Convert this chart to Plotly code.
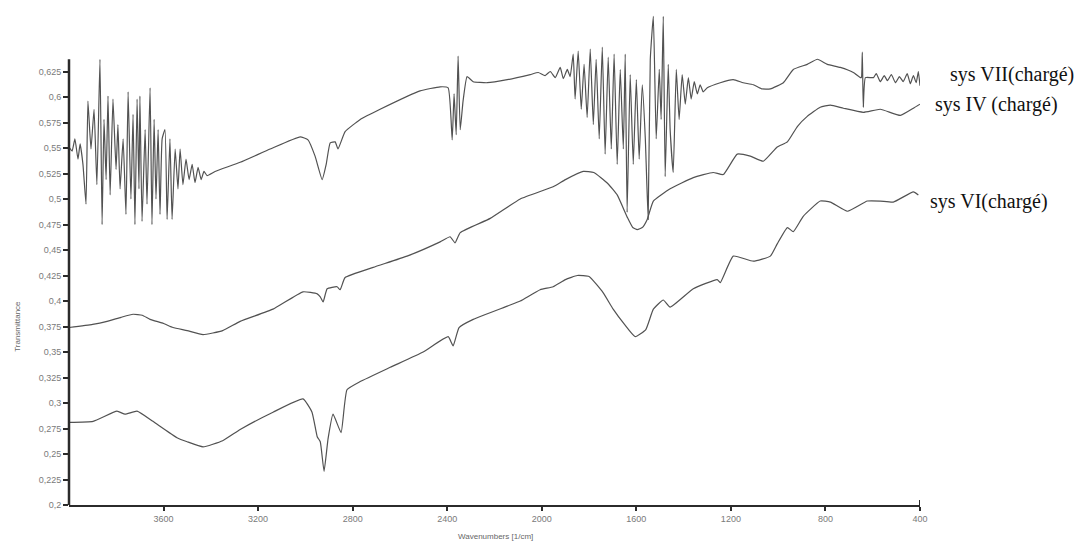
import plotly.graph_objects as go

# ---------------- data (wavenumber in 1/cm, transmittance) ----------------
x_tick_vals = [3600, 3200, 2800, 2400, 2000, 1600, 1200, 800, 400]
x_tick_text = ["3600", "3200", "2800", "2400", "2000", "1600", "1200", "800", "400"]
y_tick_vals = [0.2, 0.225, 0.25, 0.275, 0.3, 0.325, 0.35, 0.375, 0.4, 0.425, 0.45,
               0.475, 0.5, 0.525, 0.55, 0.575, 0.6, 0.625]
y_tick_text = ["0,2", "0,225", "0,25", "0,275", "0,3", "0,325", "0,35", "0,375", "0,4",
               "0,425", "0,45", "0,475", "0,5", "0,525", "0,55", "0,575", "0,6", "0,625"]

series_names = ["sys VII(chargé)", "sys IV (chargé)", "sys VI(chargé)"]

wn_vii = [4000, 3987, 3975, 3962, 3953, 3941, 3928, 3920, 3907, 3894, 3882, 3869, 3860, 3852,
          3843, 3835, 3826, 3814, 3801, 3793, 3784, 3771, 3759, 3750, 3738, 3729, 3721, 3712,
          3704, 3700, 3691, 3678, 3670, 3657, 3649, 3640, 3632, 3623, 3615, 3606, 3594, 3585,
          3573, 3564, 3551, 3539, 3530, 3518, 3505, 3492, 3479, 3467, 3454, 3441, 3429, 3416,
          3382, 3276, 3149, 3022, 2989, 2959, 2929, 2912, 2895, 2874, 2862, 2832, 2768, 2684,
          2515, 2430, 2396, 2379, 2371, 2362, 2354, 2345, 2333, 2316, 2290, 2231, 2146, 2049,
          2015, 1986, 1964, 1943, 1922, 1909, 1892,
          1880, 1867, 1859, 1846, 1833, 1821, 1808, 1795, 1782, 1770, 1757, 1744, 1732, 1719,
          1706, 1694, 1681, 1668, 1655, 1647, 1639, 1626, 1613, 1600, 1588, 1575, 1562, 1550,
          1541, 1528, 1516, 1503, 1495, 1486, 1478, 1465, 1457, 1444, 1431, 1419, 1406, 1393,
          1380, 1368, 1355, 1342, 1330, 1317, 1300,
          1245, 1190, 1148, 1105, 1070, 1033, 978, 936, 877, 834, 792, 737, 682, 652, 648,
          644, 640, 631, 597, 585, 568, 551, 538, 521, 504, 487, 471, 454, 441, 428, 416,
          407, 400]
t_vii = [0.551, 0.547, 0.559, 0.539, 0.554, 0.534, 0.495, 0.596, 0.549, 0.588, 0.514, 0.637,
         0.475, 0.578, 0.519, 0.601, 0.504, 0.598, 0.529, 0.573, 0.510, 0.559, 0.485, 0.605,
         0.500, 0.583, 0.475, 0.598, 0.510, 0.601, 0.478, 0.568, 0.495, 0.609, 0.475, 0.578,
         0.500, 0.568, 0.485, 0.559, 0.568, 0.480, 0.559, 0.480, 0.549, 0.510, 0.549, 0.514,
         0.539, 0.519, 0.534, 0.516, 0.531, 0.519, 0.527, 0.523,
         0.527, 0.536, 0.549, 0.561, 0.558, 0.542, 0.519, 0.534, 0.555, 0.556, 0.549, 0.566,
         0.578, 0.588, 0.606, 0.610, 0.609, 0.558, 0.603, 0.563, 0.640, 0.568, 0.596, 0.620,
         0.615, 0.614, 0.617, 0.622, 0.624, 0.621, 0.625, 0.619, 0.629, 0.618, 0.627,
         0.620, 0.642, 0.598, 0.645, 0.588, 0.632, 0.580, 0.647, 0.573, 0.637, 0.559, 0.649,
         0.544, 0.639, 0.549, 0.642, 0.534, 0.627, 0.549, 0.642, 0.487, 0.622, 0.534, 0.617,
         0.539, 0.612, 0.559, 0.480, 0.637, 0.679, 0.559, 0.627, 0.578, 0.679, 0.522, 0.632,
         0.568, 0.526, 0.627, 0.578, 0.622, 0.593, 0.619, 0.598, 0.615, 0.603, 0.612, 0.605,
         0.609,
         0.614, 0.617, 0.614, 0.612, 0.608, 0.608, 0.614, 0.627, 0.632, 0.637, 0.632, 0.629,
         0.624, 0.619, 0.619, 0.644, 0.590, 0.619, 0.619, 0.623, 0.615, 0.621, 0.616, 0.622,
         0.614, 0.620, 0.615, 0.623, 0.613, 0.621, 0.614, 0.625, 0.611]

wn_iv = [4000, 3900, 3839, 3780, 3729, 3690, 3657, 3600, 3560, 3500, 3433, 3350, 3276, 3137,
         3010, 2950, 2937, 2925, 2908, 2866, 2853, 2832, 2713, 2570, 2430, 2388, 2367, 2345,
         2218, 2091, 1952, 1900, 1825, 1780, 1720, 1681, 1638, 1615, 1596, 1575, 1554, 1528,
         1457, 1359, 1275, 1232, 1173, 1118, 1063, 1004, 961, 919, 877, 822, 779, 724, 640,
         568, 483, 428, 400]
t_iv = [0.374, 0.377, 0.380, 0.384, 0.387, 0.386, 0.382, 0.378, 0.374, 0.371, 0.367, 0.371,
        0.380, 0.392, 0.409, 0.407, 0.404, 0.399, 0.412, 0.414, 0.411, 0.423, 0.433, 0.444,
        0.458, 0.463, 0.457, 0.467, 0.481, 0.500, 0.512, 0.519, 0.527, 0.526, 0.515, 0.504,
        0.482, 0.472, 0.470, 0.472, 0.480, 0.498, 0.510, 0.521, 0.526, 0.524, 0.544, 0.542,
        0.537, 0.551, 0.556, 0.571, 0.581, 0.590, 0.592, 0.589, 0.585, 0.588, 0.582, 0.589,
        0.593]

wn_vi = [4000, 3898, 3797, 3763, 3712, 3645, 3543, 3500, 3433, 3350, 3276, 3137, 3010, 2972,
         2950, 2937, 2921, 2904, 2883, 2849, 2824, 2768, 2641, 2502, 2396, 2375, 2350, 2290,
         2146, 2091, 2007, 1952, 1900, 1850, 1800, 1740, 1698, 1650, 1605, 1560, 1528, 1486,
         1457, 1359, 1258, 1245, 1190, 1105, 1033, 1004, 961, 936, 894, 822, 779, 707, 623,
         568, 513, 428, 407]
t_vi = [0.281, 0.282, 0.292, 0.289, 0.292, 0.282, 0.266, 0.262, 0.257, 0.263, 0.274, 0.291,
        0.304, 0.291, 0.267, 0.262, 0.233, 0.265, 0.289, 0.271, 0.313, 0.321, 0.335, 0.350,
        0.365, 0.356, 0.374, 0.382, 0.395, 0.400, 0.411, 0.414, 0.421, 0.425, 0.424, 0.408,
        0.392, 0.377, 0.365, 0.372, 0.392, 0.401, 0.394, 0.412, 0.421, 0.418, 0.444, 0.439,
        0.444, 0.456, 0.472, 0.468, 0.483, 0.498, 0.497, 0.488, 0.498, 0.498, 0.497, 0.507,
        0.504]

# ---------------- figure ----------------
AX = "#2b2b2b"
LINE = "#525252"
TICKFONT = dict(family="Liberation Sans", size=9, color="#7a7a7a")

fig = go.Figure()
for wn, t, name in [(wn_vii, t_vii, series_names[0]),
                    (wn_iv, t_iv, series_names[1]),
                    (wn_vi, t_vi, series_names[2])]:
    fig.add_trace(go.Scatter(x=wn, y=t, mode="lines", name=name,
                             line=dict(color=LINE, width=1.2, shape="spline", smoothing=0.4),
                             hoverinfo="skip"))

fig.update_layout(
    width=1090, height=545,
    margin=dict(l=69, r=170, t=10, b=40),
    paper_bgcolor="white", plot_bgcolor="white",
    showlegend=False,
    xaxis=dict(range=[4000, 400], showline=True, linecolor=AX, linewidth=2,
               ticks="outside", ticklen=4, tickwidth=2, tickcolor=AX,
               tickvals=x_tick_vals, ticktext=x_tick_text, tickfont=TICKFONT,
               showgrid=False, zeroline=False),
    yaxis=dict(range=[0.2, 0.2 + 495 / 1020], showline=False,
               ticks="outside", ticklen=5, tickwidth=2, tickcolor=AX,
               tickvals=y_tick_vals, ticktext=y_tick_text, tickfont=TICKFONT,
               showgrid=False, zeroline=False),
)

# y axis line (shorter than plot area, like the original)
fig.add_shape(type="line", xref="paper", yref="y", x0=0, x1=0, y0=0.2, y1=0.637,
              line=dict(color=AX, width=2.5))
# small upturned end on the x axis
fig.add_shape(type="line", xref="x", yref="y", x0=400, x1=400, y0=0.2, y1=0.205,
              line=dict(color=AX, width=2))

# axis titles
fig.add_annotation(text="Wavenumbers [1/cm]", xref="paper", yref="paper",
                   x=0.5006, y=-0.0646, showarrow=False, xanchor="center", yanchor="middle",
                   font=dict(family="Liberation Sans", size=8, color="#666"))
fig.add_annotation(text="Transmittance", xref="paper", yref="paper", textangle=-90,
                   x=-0.0599, y=0.36, showarrow=False, xanchor="center", yanchor="middle",
                   font=dict(family="Liberation Sans", size=8, color="#666"))

# series labels
label_pos = [(1.033, 0.869), (1.0153, 0.810), (1.0094, 0.614)]
for name, (lx, ly) in zip(series_names, label_pos):
    fig.add_annotation(text=name, xref="paper", yref="paper", x=lx, y=ly,
                       showarrow=False, xanchor="left", yanchor="middle",
                       font=dict(family="Liberation Serif", size=20, color="#111"))

fig.write_html("out.html")
